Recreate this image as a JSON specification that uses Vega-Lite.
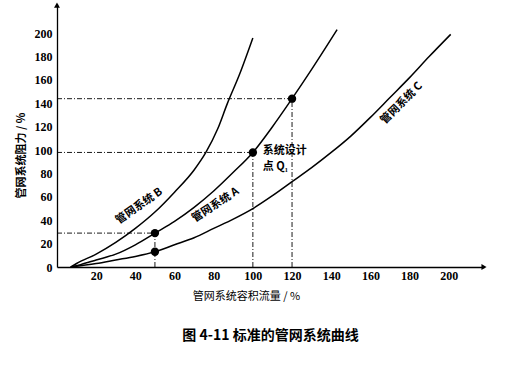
{
  "$schema": "https://vega.github.io/schema/vega-lite/v6.json",
  "width": 427,
  "height": 263,
  "autosize": {"type": "none"},
  "padding": {"left": 57, "top": 4, "right": 30, "bottom": 106},
  "background": "white",
  "config": {"view": {"stroke": null}},
  "title": {
    "text": "图 4-11   标准的管网系统曲线",
    "orient": "bottom",
    "anchor": "middle",
    "offset": 28,
    "font": "Noto Sans CJK SC",
    "fontSize": 14,
    "fontWeight": "bold",
    "color": "black"
  },
  "datasets": {
    "curves": [
      {"s": "B", "x": 7, "y": 0}, {"s": "B", "x": 10, "y": 3}, {"s": "B", "x": 20, "y": 11}, {"s": "B", "x": 30, "y": 21},
      {"s": "B", "x": 40, "y": 33}, {"s": "B", "x": 50, "y": 47}, {"s": "B", "x": 60, "y": 64}, {"s": "B", "x": 70, "y": 83},
      {"s": "B", "x": 76, "y": 98}, {"s": "B", "x": 82, "y": 118}, {"s": "B", "x": 87, "y": 140}, {"s": "B", "x": 93, "y": 164},
      {"s": "B", "x": 100, "y": 196},
      {"s": "A", "x": 7, "y": 0}, {"s": "A", "x": 12, "y": 2}, {"s": "A", "x": 20, "y": 6}, {"s": "A", "x": 30, "y": 11},
      {"s": "A", "x": 40, "y": 19}, {"s": "A", "x": 50, "y": 29}, {"s": "A", "x": 60, "y": 39}, {"s": "A", "x": 70, "y": 51},
      {"s": "A", "x": 80, "y": 65}, {"s": "A", "x": 90, "y": 81}, {"s": "A", "x": 100, "y": 98}, {"s": "A", "x": 110, "y": 120},
      {"s": "A", "x": 120, "y": 144}, {"s": "A", "x": 130, "y": 169}, {"s": "A", "x": 143, "y": 203},
      {"s": "C", "x": 7, "y": 0}, {"s": "C", "x": 20, "y": 3}, {"s": "C", "x": 30, "y": 6}, {"s": "C", "x": 40, "y": 9},
      {"s": "C", "x": 50, "y": 13}, {"s": "C", "x": 60, "y": 19}, {"s": "C", "x": 70, "y": 25}, {"s": "C", "x": 80, "y": 33},
      {"s": "C", "x": 90, "y": 41}, {"s": "C", "x": 100, "y": 50}, {"s": "C", "x": 110, "y": 61}, {"s": "C", "x": 120, "y": 73},
      {"s": "C", "x": 130, "y": 85}, {"s": "C", "x": 140, "y": 98}, {"s": "C", "x": 150, "y": 112}, {"s": "C", "x": 160, "y": 128},
      {"s": "C", "x": 170, "y": 145}, {"s": "C", "x": 180, "y": 162}, {"s": "C", "x": 190, "y": 180}, {"s": "C", "x": 201, "y": 199}
    ],
    "refs": [
      {"x": 0, "y": 144, "x2": 120, "y2": 144},
      {"x": 0, "y": 98, "x2": 100, "y2": 98},
      {"x": 0, "y": 29, "x2": 50, "y2": 29},
      {"x": 120, "y": 0, "x2": 120, "y2": 144},
      {"x": 100, "y": 0, "x2": 100, "y2": 98},
      {"x": 50, "y": 0, "x2": 50, "y2": 29}
    ],
    "pts": [
      {"x": 50, "y": 29}, {"x": 50, "y": 13}, {"x": 100, "y": 98}, {"x": 120, "y": 144}
    ],
    "labels": [
      {"t": "管网系统 B", "x": 42, "y": 52, "a": -35},
      {"t": "管网系统 A", "x": 81, "y": 53, "a": -33},
      {"t": "管网系统 C", "x": 176, "y": 140, "a": -45}
    ],
    "notes": [
      {"t": "系统设计", "x": 105, "y": 99.5},
      {"t": "点 Q₁", "x": 105, "y": 85.5}
    ],
    "arrows": [
      {"x": 218, "y": 0, "sh": "triangle-right"},
      {"x": 0, "y": 224, "sh": "triangle-up"}
    ]
  },
  "encoding": {
    "x": {"field": "x", "type": "quantitative", "scale": {"domain": [0, 218], "nice": false},
      "axis": {
        "values": [20, 40, 60, 80, 100, 120, 140, 160, 180, 200],
        "ticks": false, "grid": false, "domainColor": "black", "domainWidth": 1.3,
        "labelFont": "Liberation Serif", "labelFontSize": 12, "labelFontWeight": "bold", "labelColor": "black",
        "labelPadding": 3, "labelOverlap": false, "labelFlush": false,
        "title": "管网系统容积流量 / %", "titleFont": "Noto Sans CJK SC", "titleFontSize": 11, "titleFontWeight": "normal",
        "titleColor": "black", "titlePadding": 9, "titleX": 189
      }},
    "y": {"field": "y", "type": "quantitative", "scale": {"domain": [0, 225], "nice": false},
      "axis": {
        "values": [0, 20, 40, 60, 80, 100, 120, 140, 160, 180, 200],
        "tickCount": 12,
        "ticks": false, "grid": false, "domainColor": "black", "domainWidth": 1.3,
        "labelFont": "Liberation Serif", "labelFontSize": 12, "labelFontWeight": "bold", "labelColor": "black",
        "labelPadding": 5, "labelOverlap": false, "labelFlush": false,
        "title": "管网系统阻力 / %", "titleFont": "Noto Sans CJK SC", "titleFontSize": 11, "titleFontWeight": "bold",
        "titleColor": "black", "titlePadding": 8, "titleY": 151
      }}
  },
  "layer": [
    {
      "data": {"name": "refs"},
      "mark": {"type": "rule", "color": "black", "strokeWidth": 0.9, "strokeDash": [5, 2, 1, 2]},
      "encoding": {
        "x2": {"field": "x2"},
        "y2": {"field": "y2"}
      }
    },
    {
      "data": {"name": "curves"},
      "mark": {"type": "line", "color": "black", "strokeWidth": 1.5, "interpolate": "monotone"},
      "encoding": {
        "detail": {"field": "s"}
      }
    },
    {
      "data": {"name": "pts"},
      "mark": {"type": "point", "filled": true, "color": "black", "size": 70, "opacity": 1},
      "encoding": {}
    },
    {
      "data": {"name": "arrows"},
      "mark": {"type": "point", "filled": true, "color": "black", "size": 35, "opacity": 1},
      "encoding": {
        "shape": {"field": "sh", "type": "nominal", "scale": null}
      }
    },
    {
      "data": {"name": "labels"},
      "mark": {"type": "text", "font": "Noto Sans CJK SC", "fontSize": 11, "fontWeight": "bold", "color": "black", "baseline": "middle", "align": "center"},
      "encoding": {
        "text": {"field": "t"},
        "angle": {"field": "a", "type": "quantitative", "scale": null}
      }
    },
    {
      "data": {"name": "notes"},
      "mark": {"type": "text", "font": "Noto Sans CJK SC", "fontSize": 11, "fontWeight": "bold", "color": "black", "baseline": "middle", "align": "left"},
      "encoding": {
        "text": {"field": "t"}
      }
    }
  ]
}
